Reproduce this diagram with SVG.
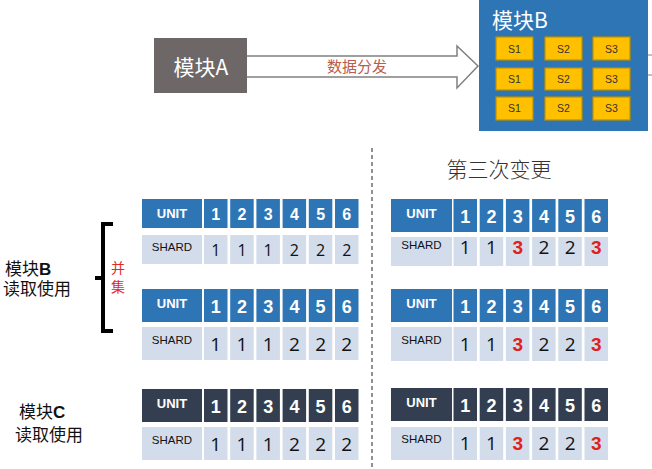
<svg xmlns="http://www.w3.org/2000/svg" width="652" height="469" viewBox="0 0 652 469">
<style>
.bg{fill:#ffffff}
.hb{fill:#2e75b6}
.hd{fill:#333f50}
.sc{fill:#d3dcea}
.ut{font-family:"Liberation Sans",Arial,sans-serif;font-weight:bold;font-size:13px;fill:#ffffff;text-anchor:middle}
.hn{font-family:"Liberation Sans",Arial,sans-serif;font-weight:bold;font-size:18px;fill:#ffffff;text-anchor:middle}
.hn1{font-family:"Liberation Sans",Arial,sans-serif;font-weight:bold;font-size:16px;fill:#ffffff;text-anchor:middle}
.st{font-family:"Liberation Sans",Arial,sans-serif;font-size:11.5px;fill:#111111;text-anchor:middle}
.sn{font-family:"Open Sans","Liberation Sans",sans-serif;font-size:19px;fill:#111111;text-anchor:middle}
.sn1{font-family:"Open Sans","Liberation Sans",sans-serif;font-size:16px;fill:#111111;text-anchor:middle}
.r{font-family:"Liberation Sans",Arial,sans-serif;font-weight:bold;fill:#e0201c}
.sb{fill:#ffc000;stroke:#bf9000;stroke-width:1.2}
.stx{font-family:"Liberation Sans",Arial,sans-serif;font-size:10.5px;fill:#333333;text-anchor:middle}
.lbl{font-family:"Liberation Sans","Noto Sans CJK SC",sans-serif;font-size:17px;fill:#111111}
.red{font-family:"Noto Sans CJK SC",sans-serif;font-size:14px;fill:#e02a2a}
</style>
<rect class="bg" x="0" y="0" width="652" height="469"/>

<g id="moduleA">
<rect x="154" y="38" width="93" height="55" fill="#6d6767"/>
<text x="201" y="75" font-family="'Noto Sans CJK SC',sans-serif" font-size="21" fill="#ffffff" text-anchor="middle">模块A</text>
</g>

<g id="connectors">
<path d="M247,56 H457 V46 L478,66 L457,88 V77 H247" fill="#ffffff" stroke="#808080" stroke-width="1.5"/>
<text x="357" y="72" font-family="'Noto Sans CJK SC',sans-serif" font-size="15" fill="#b85c4c" text-anchor="middle">数据分发</text>
<line x1="648" y1="55" x2="652" y2="55" stroke="#808080" stroke-width="1"/>
<line x1="648" y1="75" x2="652" y2="75" stroke="#808080" stroke-width="1"/>
<line x1="372" y1="148" x2="372" y2="469" stroke="#222222" stroke-width="1" stroke-dasharray="4,3"/>
</g>

<g id="moduleB">
<rect x="479" y="0" width="169" height="131" fill="#2e75b6"/>
<text x="492" y="28" font-family="'Noto Sans CJK SC',sans-serif" font-size="21" fill="#ffffff">模块B</text>
<rect class="sb" x="496" y="37" width="37" height="23"/><text class="stx" x="514.5" y="52.5">S1</text>
<rect class="sb" x="545" y="37" width="37" height="23"/><text class="stx" x="563.5" y="52.5">S2</text>
<rect class="sb" x="593" y="37" width="37" height="23"/><text class="stx" x="611.5" y="52.5">S3</text>
<rect class="sb" x="496" y="68" width="37" height="22"/><text class="stx" x="514.5" y="83">S1</text>
<rect class="sb" x="545" y="68" width="37" height="22"/><text class="stx" x="563.5" y="83">S2</text>
<rect class="sb" x="593" y="68" width="37" height="22"/><text class="stx" x="611.5" y="83">S3</text>
<rect class="sb" x="496" y="97" width="37" height="23"/><text class="stx" x="514.5" y="112">S1</text>
<rect class="sb" x="545" y="97" width="37" height="23"/><text class="stx" x="563.5" y="112">S2</text>
<rect class="sb" x="593" y="97" width="37" height="23"/><text class="stx" x="611.5" y="112">S3</text>
</g>

<g id="title">
<text x="499" y="177" font-family="'Noto Sans CJK SC',sans-serif" font-weight="300" font-size="21" fill="#333333" text-anchor="middle">第三次变更</text>
</g>

<g id="labels">
<text class="lbl" x="5" y="275">模块<tspan font-weight="bold">B</tspan></text>
<text class="lbl" x="3" y="295">读取使用</text>
<text class="lbl" x="19" y="418">模块<tspan font-weight="bold">C</tspan></text>
<text class="lbl" x="15" y="441">读取使用</text>
<path d="M113,224 H103 V331 H113 M103,278 H95" fill="none" stroke="#000000" stroke-width="4"/>
<text class="red" x="111" y="273">并</text>
<text class="red" x="111" y="292">集</text>
</g>

<g id="tableL1" transform="translate(142,199)">
<rect class="hb" x="0" y="0" width="60" height="29"/>
<rect class="hb" x="62" y="0" width="23.5" height="29"/>
<rect class="hb" x="88.2" y="0" width="23.5" height="29"/>
<rect class="hb" x="114.4" y="0" width="23.5" height="29"/>
<rect class="hb" x="140.6" y="0" width="23.5" height="29"/>
<rect class="hb" x="166.8" y="0" width="23.5" height="29"/>
<rect class="hb" x="193" y="0" width="23.5" height="29"/>
<text class="ut" x="30" y="19">UNIT</text>
<text class="hn1" x="73.8" y="20.5">1</text><text class="hn1" x="100" y="20.5">2</text><text class="hn1" x="126.2" y="20.5">3</text><text class="hn1" x="152.4" y="20.5">4</text><text class="hn1" x="178.6" y="20.5">5</text><text class="hn1" x="204.8" y="20.5">6</text>
<rect class="sc" x="0" y="36" width="60" height="29"/>
<rect class="sc" x="62" y="36" width="23.5" height="29"/>
<rect class="sc" x="88.2" y="36" width="23.5" height="29"/>
<rect class="sc" x="114.4" y="36" width="23.5" height="29"/>
<rect class="sc" x="140.6" y="36" width="23.5" height="29"/>
<rect class="sc" x="166.8" y="36" width="23.5" height="29"/>
<rect class="sc" x="193" y="36" width="23.5" height="29"/>
<text class="st" x="30" y="51.5">SHARD</text>
<text class="sn1" x="73.8" y="57">1</text><text class="sn1" x="100" y="57">1</text><text class="sn1" x="126.2" y="57">1</text><text class="sn1" x="152.4" y="57">2</text><text class="sn1" x="178.6" y="57">2</text><text class="sn1" x="204.8" y="57">2</text>
</g>

<g id="tableL2" transform="translate(142,289)">
<rect class="hb" x="0" y="0" width="60" height="33"/>
<rect class="hb" x="62" y="0" width="23.5" height="33"/>
<rect class="hb" x="88.2" y="0" width="23.5" height="33"/>
<rect class="hb" x="114.4" y="0" width="23.5" height="33"/>
<rect class="hb" x="140.6" y="0" width="23.5" height="33"/>
<rect class="hb" x="166.8" y="0" width="23.5" height="33"/>
<rect class="hb" x="193" y="0" width="23.5" height="33"/>
<text class="ut" x="30" y="19">UNIT</text>
<text class="hn" x="73.8" y="24">1</text><text class="hn" x="100" y="24">2</text><text class="hn" x="126.2" y="24">3</text><text class="hn" x="152.4" y="24">4</text><text class="hn" x="178.6" y="24">5</text><text class="hn" x="204.8" y="24">6</text>
<rect class="sc" x="0" y="38" width="60" height="33"/>
<rect class="sc" x="62" y="38" width="23.5" height="33"/>
<rect class="sc" x="88.2" y="38" width="23.5" height="33"/>
<rect class="sc" x="114.4" y="38" width="23.5" height="33"/>
<rect class="sc" x="140.6" y="38" width="23.5" height="33"/>
<rect class="sc" x="166.8" y="38" width="23.5" height="33"/>
<rect class="sc" x="193" y="38" width="23.5" height="33"/>
<text class="st" x="30" y="55">SHARD</text>
<text class="sn" x="73.8" y="61.5">1</text><text class="sn" x="100" y="61.5">1</text><text class="sn" x="126.2" y="61.5">1</text><text class="sn" x="152.4" y="61.5">2</text><text class="sn" x="178.6" y="61.5">2</text><text class="sn" x="204.8" y="61.5">2</text>
</g>

<g id="tableL3" transform="translate(142,389)">
<rect class="hd" x="0" y="0" width="60" height="33"/>
<rect class="hd" x="62" y="0" width="23.5" height="33"/>
<rect class="hd" x="88.2" y="0" width="23.5" height="33"/>
<rect class="hd" x="114.4" y="0" width="23.5" height="33"/>
<rect class="hd" x="140.6" y="0" width="23.5" height="33"/>
<rect class="hd" x="166.8" y="0" width="23.5" height="33"/>
<rect class="hd" x="193" y="0" width="23.5" height="33"/>
<text class="ut" x="30" y="19">UNIT</text>
<text class="hn" x="73.8" y="24">1</text><text class="hn" x="100" y="24">2</text><text class="hn" x="126.2" y="24">3</text><text class="hn" x="152.4" y="24">4</text><text class="hn" x="178.6" y="24">5</text><text class="hn" x="204.8" y="24">6</text>
<rect class="sc" x="0" y="38" width="60" height="33"/>
<rect class="sc" x="62" y="38" width="23.5" height="33"/>
<rect class="sc" x="88.2" y="38" width="23.5" height="33"/>
<rect class="sc" x="114.4" y="38" width="23.5" height="33"/>
<rect class="sc" x="140.6" y="38" width="23.5" height="33"/>
<rect class="sc" x="166.8" y="38" width="23.5" height="33"/>
<rect class="sc" x="193" y="38" width="23.5" height="33"/>
<text class="st" x="30" y="55">SHARD</text>
<text class="sn" x="73.8" y="61.5">1</text><text class="sn" x="100" y="61.5">1</text><text class="sn" x="126.2" y="61.5">1</text><text class="sn" x="152.4" y="61.5">2</text><text class="sn" x="178.6" y="61.5">2</text><text class="sn" x="204.8" y="61.5">2</text>
</g>

<g id="tableR1" transform="translate(391,199)">
<rect class="hb" x="0" y="0" width="61" height="33"/>
<rect class="hb" x="62.5" y="0" width="23.5" height="33"/>
<rect class="hb" x="88.7" y="0" width="23.5" height="33"/>
<rect class="hb" x="114.9" y="0" width="23.5" height="33"/>
<rect class="hb" x="141.1" y="0" width="23.5" height="33"/>
<rect class="hb" x="167.3" y="0" width="23.5" height="33"/>
<rect class="hb" x="193.5" y="0" width="23.5" height="33"/>
<text class="ut" x="30.5" y="19">UNIT</text>
<text class="hn" x="74.3" y="24">1</text><text class="hn" x="100.5" y="24">2</text><text class="hn" x="126.7" y="24">3</text><text class="hn" x="152.9" y="24">4</text><text class="hn" x="179.1" y="24">5</text><text class="hn" x="205.3" y="24">6</text>
<rect class="sc" x="0" y="38" width="61" height="29"/>
<rect class="sc" x="62.5" y="38" width="23.5" height="29"/>
<rect class="sc" x="88.7" y="38" width="23.5" height="29"/>
<rect class="sc" x="114.9" y="38" width="23.5" height="29"/>
<rect class="sc" x="141.1" y="38" width="23.5" height="29"/>
<rect class="sc" x="167.3" y="38" width="23.5" height="29"/>
<rect class="sc" x="193.5" y="38" width="23.5" height="29"/>
<text class="st" x="30.5" y="50">SHARD</text>
<text class="sn" x="74.3" y="55">1</text><text class="sn" x="100.5" y="55">1</text><text class="sn r" x="126.7" y="55">3</text><text class="sn" x="152.9" y="55">2</text><text class="sn" x="179.1" y="55">2</text><text class="sn r" x="205.3" y="55">3</text>
</g>

<g id="tableR2" transform="translate(391,289)">
<rect class="hb" x="0" y="0" width="61" height="33"/>
<rect class="hb" x="62.5" y="0" width="23.5" height="33"/>
<rect class="hb" x="88.7" y="0" width="23.5" height="33"/>
<rect class="hb" x="114.9" y="0" width="23.5" height="33"/>
<rect class="hb" x="141.1" y="0" width="23.5" height="33"/>
<rect class="hb" x="167.3" y="0" width="23.5" height="33"/>
<rect class="hb" x="193.5" y="0" width="23.5" height="33"/>
<text class="ut" x="30.5" y="19">UNIT</text>
<text class="hn" x="74.3" y="24">1</text><text class="hn" x="100.5" y="24">2</text><text class="hn" x="126.7" y="24">3</text><text class="hn" x="152.9" y="24">4</text><text class="hn" x="179.1" y="24">5</text><text class="hn" x="205.3" y="24">6</text>
<rect class="sc" x="0" y="38" width="61" height="34"/>
<rect class="sc" x="62.5" y="38" width="23.5" height="34"/>
<rect class="sc" x="88.7" y="38" width="23.5" height="34"/>
<rect class="sc" x="114.9" y="38" width="23.5" height="34"/>
<rect class="sc" x="141.1" y="38" width="23.5" height="34"/>
<rect class="sc" x="167.3" y="38" width="23.5" height="34"/>
<rect class="sc" x="193.5" y="38" width="23.5" height="34"/>
<text class="st" x="30.5" y="55">SHARD</text>
<text class="sn" x="74.3" y="62">1</text><text class="sn" x="100.5" y="62">1</text><text class="sn r" x="126.7" y="62">3</text><text class="sn" x="152.9" y="62">2</text><text class="sn" x="179.1" y="62">2</text><text class="sn r" x="205.3" y="62">3</text>
</g>

<g id="tableR3" transform="translate(391,388)">
<rect class="hd" x="0" y="0" width="61" height="33"/>
<rect class="hd" x="62.5" y="0" width="23.5" height="33"/>
<rect class="hd" x="88.7" y="0" width="23.5" height="33"/>
<rect class="hd" x="114.9" y="0" width="23.5" height="33"/>
<rect class="hd" x="141.1" y="0" width="23.5" height="33"/>
<rect class="hd" x="167.3" y="0" width="23.5" height="33"/>
<rect class="hd" x="193.5" y="0" width="23.5" height="33"/>
<text class="ut" x="30.5" y="19">UNIT</text>
<text class="hn" x="74.3" y="24">1</text><text class="hn" x="100.5" y="24">2</text><text class="hn" x="126.7" y="24">3</text><text class="hn" x="152.9" y="24">4</text><text class="hn" x="179.1" y="24">5</text><text class="hn" x="205.3" y="24">6</text>
<rect class="sc" x="0" y="39" width="61" height="33"/>
<rect class="sc" x="62.5" y="39" width="23.5" height="33"/>
<rect class="sc" x="88.7" y="39" width="23.5" height="33"/>
<rect class="sc" x="114.9" y="39" width="23.5" height="33"/>
<rect class="sc" x="141.1" y="39" width="23.5" height="33"/>
<rect class="sc" x="167.3" y="39" width="23.5" height="33"/>
<rect class="sc" x="193.5" y="39" width="23.5" height="33"/>
<text class="st" x="30.5" y="55">SHARD</text>
<text class="sn" x="74.3" y="62">1</text><text class="sn" x="100.5" y="62">1</text><text class="sn r" x="126.7" y="62">3</text><text class="sn" x="152.9" y="62">2</text><text class="sn" x="179.1" y="62">2</text><text class="sn r" x="205.3" y="62">3</text>
</g>
</svg>
